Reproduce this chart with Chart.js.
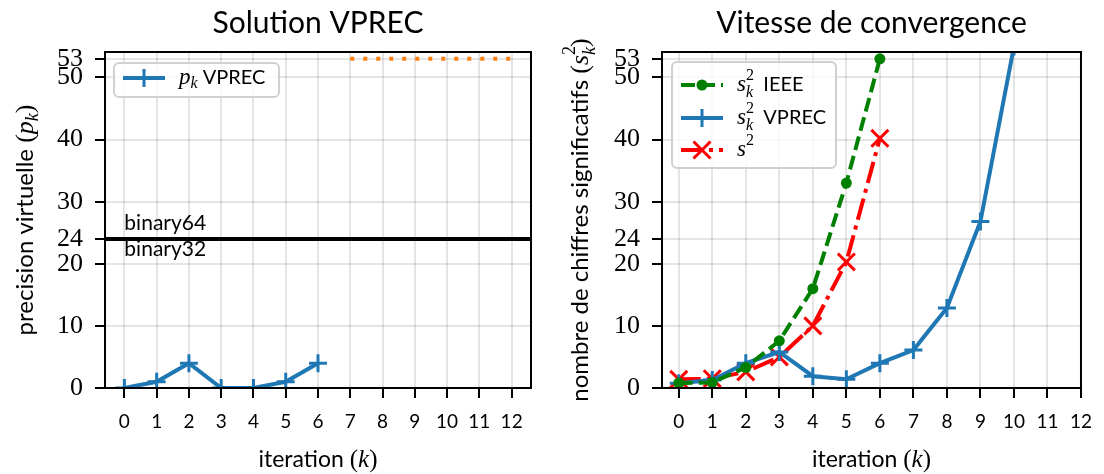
<!DOCTYPE html>
<html>
<head>
<meta charset="utf-8">
<script src="https://cdn.jsdelivr.net/npm/chart.js@4.4.1/dist/chart.umd.min.js"></script>
<style>
html,body{margin:0;padding:0;background:#fff;}
#wrap{position:relative;width:1104px;height:474px;}
.c{position:absolute;top:0;width:552px;height:474px;}
</style>
</head>
<body>
<div id="wrap">
<div class="c" style="left:0"><canvas id="left" width="552" height="474"></canvas></div>
<div class="c" style="left:552px"><canvas id="right" width="552" height="474"></canvas></div>
</div>
<script>
// données
const iters=[0,1,2,3,4,5,6,7,8,9,10,11,12];
const xTicks=[0,1,2,3,4,5,6,7,8,9,10,11,12];
const yTicks=[0,10,20,24,30,40,50,53];
const pkVprec=[0,1,4,0,0,1,4];
const pkMax=[53,53,53,53,53,53]; // iterations 7..12
const s2Ieee=[0.8,0.9,3.3,7.6,16,33,53];
const s2Vprec=[0.75,1.3,4.0,5.8,1.9,1.4,4.0,6.1,12.9,26.8,55];
const s2Ref=[1.4,1.5,2.6,5.0,10.0,20.3,40.2];
const binaryLevel=24;

const SANS='Lato, "Noto Sans", sans-serif';
const SERIF='"Liberation Serif", "DejaVu Serif", serif';
const BLUE='#1f77b4',ORANGE='#ff7f0e',GREEN='#008000',RED='#ff0000';

const pts=(xs,ys)=>ys.map((v,i)=>({x:xs[i],y:v}));

function rich(ctx,parts,x,y,align){
let w=0;
parts.forEach(p=>{ctx.font=p.f;p.w=(p.adv!==undefined)?p.adv:ctx.measureText(p.t).width;w+=p.w;});
let cx=align==='center'?x-w/2:x;
ctx.textAlign='left';ctx.textBaseline='alphabetic';ctx.fillStyle='#000';
parts.forEach(p=>{ctx.font=p.f;ctx.fillText(p.t,cx,y+(p.dy||0));cx+=p.w;});
}
const sans=s=>s+'px '+SANS, it=s=>'italic '+s+'px '+SERIF, ser=s=>s+'px '+SERIF;
const sk2=(sz)=>[{t:'s',f:it(sz)},{t:'2',f:ser(sz*0.7),dy:-sz*0.5,adv:0},{t:'k',f:it(sz*0.7),dy:sz*0.25}];

function marker(ctx,type,x,y,color){
ctx.save();ctx.strokeStyle=color;ctx.fillStyle=color;ctx.lineWidth=3;
ctx.beginPath();
if(type==='cross'){ctx.moveTo(x-9,y);ctx.lineTo(x+9,y);ctx.moveTo(x,y-9);ctx.lineTo(x,y+9);ctx.stroke();}
else if(type==='crossRot'){const d=8.5;ctx.moveTo(x-d,y-d);ctx.lineTo(x+d,y+d);ctx.moveTo(x-d,y+d);ctx.lineTo(x+d,y-d);ctx.stroke();}
else{ctx.arc(x,y,5.5,0,Math.PI*2);ctx.fill();}
ctx.restore();
}
function legendBox(ctx,x,y,w,h,items){
ctx.save();
ctx.beginPath();ctx.roundRect(x,y,w,h,5);
ctx.fillStyle='rgba(255,255,255,0.8)';ctx.fill();
ctx.strokeStyle='#d0d0d0';ctx.lineWidth=2;ctx.stroke();
items.forEach(it=>{
ctx.save();ctx.strokeStyle=it.color;ctx.lineWidth=4;ctx.setLineDash(it.dash||[]);
ctx.beginPath();ctx.moveTo(x+9,it.y);ctx.lineTo(x+51,it.y);ctx.stroke();ctx.restore();
marker(ctx,it.marker,x+30,it.y,it.color);
rich(ctx,it.label,x+65,it.y+6,'left');
});
ctx.restore();
}

function decor(o){
return {id:'decor',
afterDatasetsDraw(chart){
const ctx=chart.ctx,a=chart.chartArea;
ctx.save();
if(o.hline){
const yp=chart.scales.y.getPixelForValue(binaryLevel),xp=chart.scales.x.getPixelForValue(0);
ctx.strokeStyle='#000';ctx.lineWidth=4;
ctx.beginPath();ctx.moveTo(a.left,yp);ctx.lineTo(a.right,yp);ctx.stroke();
rich(ctx,[{t:'binary64',f:sans(21)}],xp,yp-9,'left');
rich(ctx,[{t:'binary32',f:sans(21)}],xp,yp+17,'left');
}
ctx.strokeStyle='#000';ctx.lineWidth=2;
ctx.strokeRect(a.left,a.top,a.right-a.left,a.bottom-a.top);
legendBox(ctx,o.leg.x,o.leg.y,o.leg.w,o.leg.h,o.leg.items);
},
afterDraw(chart){
const ctx=chart.ctx,a=chart.chartArea,cx=(a.left+a.right)/2,cy=(a.top+a.bottom)/2;
ctx.save();
rich(ctx,[{t:o.title,f:sans(30)}],cx,33,'center');
rich(ctx,[{t:'iteration ',f:sans(23)},{t:'(',f:ser(25)},{t:'k',f:it(25)},{t:')',f:ser(25)}],cx,467,'center');
ctx.translate(o.ytx,cy);ctx.rotate(-Math.PI/2);
rich(ctx,o.ytitle,0,0,'center');
ctx.restore();
}};
}

function axes(xmin,xmax,yw){
const tickGrid={color:'rgba(0,0,0,0.1)',lineWidth:2,tickLength:10,tickColor:'#000',tickWidth:2};
return {
x:{type:'linear',min:xmin,max:xmax,
afterBuildTicks:s=>{s.ticks=xTicks.map(v=>({value:v}));},
afterFit:s=>{s.height=86;},
grid:tickGrid,border:{display:false},
ticks:{color:'#000',font:{family:SANS,size:19},padding:12,callback:v=>v}},
y:{type:'linear',min:0,max:54.1,
afterBuildTicks:s=>{s.ticks=yTicks.map(v=>({value:v}));},
afterFit:s=>{s.width=yw;},
grid:tickGrid,border:{display:false},
ticks:{color:'#000',font:{family:SERIF,size:26},padding:12,callback:v=>v}}
};
}
const base={responsive:false,animation:false,
plugins:{legend:{display:false},title:{display:false},tooltip:{enabled:false}}};

new Chart(document.getElementById('left'),{
type:'line',
data:{datasets:[
{data:pts(iters,pkVprec),borderColor:BLUE,backgroundColor:BLUE,borderWidth:4,pointStyle:'cross',pointRadius:9,pointBorderWidth:3,clip:0,tension:0},
{data:pts(iters.slice(7),pkMax),borderColor:ORANGE,borderWidth:4,borderDash:[4,9],borderCapStyle:'butt',pointRadius:0,clip:0}
]},
options:{...base,layout:{padding:{left:0,right:21,top:52,bottom:0}},scales:axes(-0.6,12.6,105)},
plugins:[decor({title:'Solution VPREC',hline:true,ytx:33,
ytitle:[{t:'precision virtuelle ',f:sans(24)},{t:'(',f:ser(26)},{t:'p',f:it(26)},{t:'k',f:it(18),dy:5},{t:')',f:ser(26)}],
leg:{x:114,y:63,w:165,h:34,items:[{color:BLUE,marker:'cross',y:78,label:[{t:'p',f:it(23)},{t:'k',f:it(16),dy:4},{t:' VPREC',f:sans(20)}]}]}})]
});

new Chart(document.getElementById('right'),{
type:'line',
data:{datasets:[
{data:pts(iters,s2Ieee),borderColor:GREEN,backgroundColor:GREEN,borderWidth:4,borderDash:[14,6],pointStyle:'circle',pointRadius:5.5,pointBorderWidth:0,clip:0},
{data:pts(iters,s2Vprec),borderColor:BLUE,backgroundColor:BLUE,borderWidth:4,pointStyle:'cross',pointRadius:9,pointBorderWidth:3,clip:0},
{data:pts(iters,s2Ref),borderColor:RED,backgroundColor:RED,borderWidth:4,borderDash:[22,6,4,6],pointStyle:'crossRot',pointRadius:12,pointBorderWidth:3,clip:0}
]},
options:{...base,layout:{padding:{left:0,right:20,top:52,bottom:0}},scales:axes(-0.5,12,110)},
plugins:[decor({title:'Vitesse de convergence',ytx:36,
ytitle:[{t:'nombre de chiffres significatifs ',f:sans(24)},{t:'(',f:ser(26)}].concat(sk2(26),[{t:')',f:ser(26)}]),
leg:{x:120,y:62,w:164,h:106,items:[
{color:GREEN,marker:'circle',dash:[14,6],y:85,label:sk2(23).concat([{t:'  IEEE',f:sans(20)}])},
{color:BLUE,marker:'cross',y:118,label:sk2(23).concat([{t:'  VPREC',f:sans(20)}])},
{color:RED,marker:'crossRot',dash:[22,6,4,6],y:150,label:[{t:'s',f:it(23)},{t:'2',f:ser(16),dy:-11}]}
]}})]
});
</script>
</body>
</html>
